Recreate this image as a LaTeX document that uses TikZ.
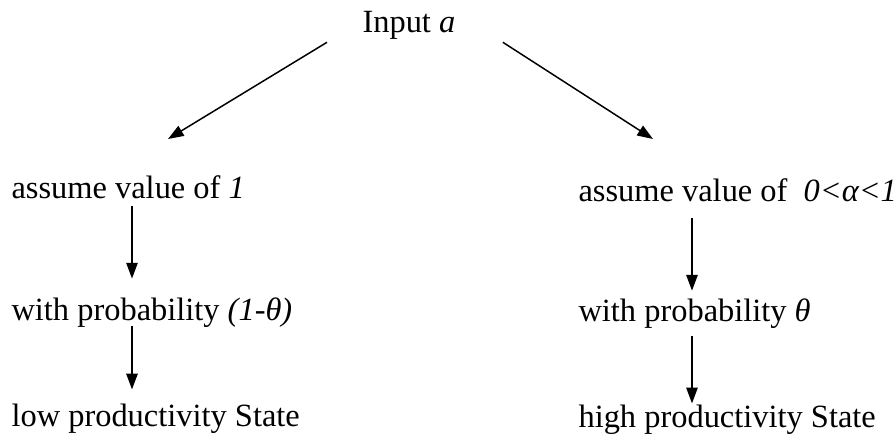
\documentclass[tikz,border=0pt]{standalone}
\usepackage{fontspec}
\setmainfont{Liberation Serif}
\usetikzlibrary{arrows.meta,positioning,calc}

\begin{document}
\begin{tikzpicture}[
        x=0.37pt, y=-0.37pt,
        lbl/.style={anchor=base west,inner sep=0pt,text height=0.7em,text depth=0.25em,font=\fontsize{12}{14}\selectfont},
        arrow/.style={-{Triangle[length=5.8pt,width=4.2pt]},line width=0.55pt}
    ]
        \useasboundingbox (0,0) rectangle (896,437);

        \node[lbl] (input) at (362,33) {Input \textit{a}};

        \node[lbl] (lval) at (11,199) {assume value of \textit{1}};
        \node[lbl] (lprob) at (11,321) {with probability \textit{(1-θ)}};
        \node[lbl] (llow) at (11,427) {low productivity State};

        \node[lbl] (rval) at (578,202) {assume value of \ \textit{0<α<1}};
        \node[lbl] (rprob) at (578,322) {with probability \textit{θ}};
        \node[lbl] (rhigh) at (578,428) {high productivity State};

        \coordinate (ltip) at (168,139);
        \coordinate (rtip) at (653,139);
        \coordinate (lcol) at (132,0);
        \coordinate (rcol) at (692,0);

        \draw[arrow] ($(input.south west)+(-35,2)$) -- (ltip);
        \draw[arrow] ($(input.south east)+(47,2)$) -- (rtip);

        \draw[arrow,shorten <=0pt,shorten >=8.5pt] (lval.south -| lcol) -- (lprob.north -| lcol);
        \draw[arrow,shorten <=-0.8pt,shorten >=6.7pt] (lprob.south -| lcol) -- (llow.north -| lcol);

        \draw[arrow,shorten <=3.3pt,shorten >=4.4pt] (rval.south -| rcol) -- (rprob.north -| rcol);
        \draw[arrow,shorten <=2.6pt,shorten >=1.9pt] (rprob.south -| rcol) -- (rhigh.north -| rcol);
    \end{tikzpicture}
\end{document}
